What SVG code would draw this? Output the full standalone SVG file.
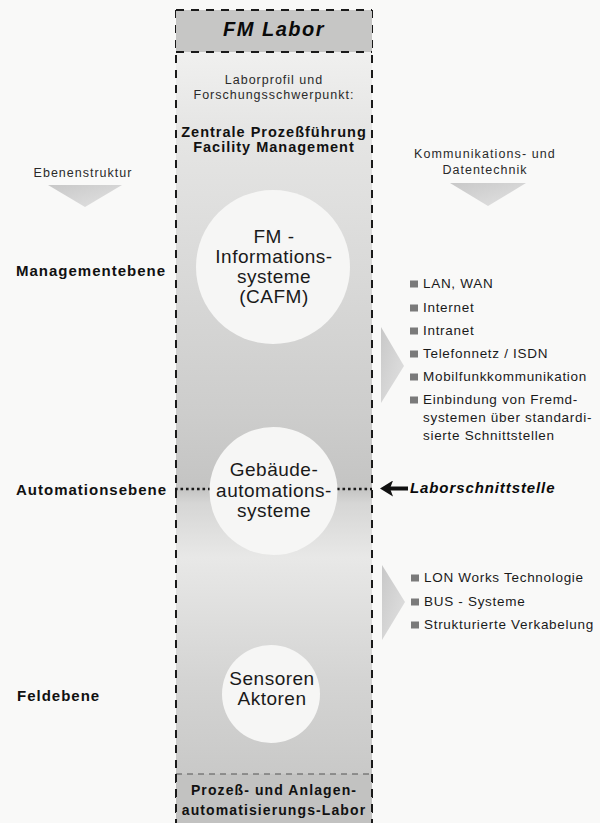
<svg xmlns="http://www.w3.org/2000/svg" width="600" height="823" viewBox="0 0 600 823">
<style>
text{font-family:"Liberation Sans",Arial,Helvetica,sans-serif;fill:#111}
.lvl{font-size:15px;font-weight:bold;letter-spacing:1px}
.hdr{font-size:12.5px;fill:#2a2a2a;letter-spacing:1px}
.circ{font-size:19px;letter-spacing:0.5px;fill:#1a1a1a;text-anchor:middle}
.li{font-size:13.5px;letter-spacing:0.7px;fill:#1a1a1a}
.bul{fill:#7a7a7a}
.dash{fill:none;stroke:#1a1a1a;stroke-width:2;stroke-dasharray:8 7}
.dots{fill:none;stroke:#1a1a1a;stroke-width:2.6;stroke-dasharray:2.6 2.9}
.node{fill:#f6f6f5}
.tri{fill:url(#tg)}
</style>
<defs>
<linearGradient id="colg" gradientUnits="userSpaceOnUse" x1="0" y1="52" x2="0" y2="774">
<stop offset="0" stop-color="#f0f0ef"/>
<stop offset="0.1" stop-color="#e6e6e5"/>
<stop offset="0.5" stop-color="#cdcdcc"/>
<stop offset="0.605" stop-color="#c4c4c3"/>
<stop offset="0.625" stop-color="#d6d6d5"/>
<stop offset="0.70" stop-color="#e8e8e7"/>
<stop offset="0.87" stop-color="#d4d4d3"/>
<stop offset="1" stop-color="#c9c9c8"/>
</linearGradient>
<linearGradient id="tg" x1="0" y1="0" x2="1" y2="1">
<stop offset="0" stop-color="#c8c8c8"/>
<stop offset="1" stop-color="#e2e2e2"/>
</linearGradient>
<marker id="ah" viewBox="0 0 13 16" refX="3" refY="8" markerWidth="13" markerHeight="16" markerUnits="userSpaceOnUse" orient="auto">
<path d="M0,0 L13,8 L0,16 L3,8 Z" fill="#111"/>
</marker>
</defs>
<rect width="600" height="823" fill="#f9f9f8"/>

<g id="column">
<rect x="176" y="52" width="196" height="722" fill="url(#colg)"/>
<path class="dash" d="M176,10 V823 M372,10 V823"/>
</g>

<g id="header">
<rect x="176" y="10" width="196" height="42" fill="#c6c6c5"/>
<path class="dash" d="M176,10 H372 M176,52 H372"/>
<text x="274" y="36" text-anchor="middle" style="font-size:20px;font-weight:bold;font-style:italic;letter-spacing:1.5px;fill:#0a0a0a">FM Labor</text>
<text class="hdr" x="274" y="84" text-anchor="middle">Laborprofil und</text>
<text class="hdr" x="274" y="99" text-anchor="middle">Forschungsschwerpunkt:</text>
<text x="274" y="137" text-anchor="middle" style="font-size:14.5px;font-weight:bold;letter-spacing:1px">Zentrale Prozeßführung</text>
<text x="274" y="152" text-anchor="middle" style="font-size:14.5px;font-weight:bold;letter-spacing:1px">Facility Management</text>
</g>

<g id="footer">
<rect x="176" y="774" width="196" height="49" fill="#c2c2c1"/>
<path d="M176,774 H372" fill="none" stroke="#555" stroke-width="1.2" stroke-dasharray="6 5"/>
<path class="dash" d="M176,774 V823 M372,774 V823"/>
<text x="274" y="795" text-anchor="middle" style="font-size:14px;font-weight:bold;letter-spacing:1.1px">Prozeß- und Anlagen-</text>
<text x="274" y="815" text-anchor="middle" style="font-size:14px;font-weight:bold;letter-spacing:1.1px">automatisierungs-Labor</text>
</g>

<g id="connectors">
<path class="dots" d="M175,489 H210 M337,489 H372"/>
<line x1="408" y1="488.5" x2="390" y2="488.5" stroke="#111" stroke-width="4" marker-end="url(#ah)"/>
</g>

<g id="node-fm">
<circle class="node" cx="273" cy="267" r="77"/>
<text class="circ" x="274" y="243">FM -</text>
<text class="circ" x="274" y="263">Informations-</text>
<text class="circ" x="274" y="283">systeme</text>
<text class="circ" x="274" y="303">(CAFM)</text>
</g>

<g id="node-gebaeude">
<circle class="node" cx="273.5" cy="491" r="64"/>
<text class="circ" x="274" y="476">Gebäude-</text>
<text class="circ" x="274" y="497">automations-</text>
<text class="circ" x="274" y="517">systeme</text>
</g>

<g id="node-sensoren">
<circle class="node" cx="271" cy="694" r="49"/>
<text class="circ" x="272" y="685">Sensoren</text>
<text class="circ" x="272" y="705">Aktoren</text>
</g>

<g id="levels">
<text class="hdr" x="83" y="177" text-anchor="middle">Ebenenstruktur</text>
<polygon class="tri" points="48,185 122,185 85,207"/>
<text class="lvl" x="16" y="276">Managementebene</text>
<text class="lvl" x="16" y="495">Automationsebene</text>
<text class="lvl" x="17" y="701">Feldebene</text>
</g>

<g id="kommunikation">
<text class="hdr" x="485" y="158" text-anchor="middle" style="letter-spacing:1.1px">Kommunikations- und</text>
<text class="hdr" x="485" y="174" text-anchor="middle">Datentechnik</text>
<polygon class="tri" points="450,183 526,183 488,206"/>
</g>

<g id="list-management">
<polygon class="tri" points="381,327 381,403 404,366"/>
<rect class="bul" x="410" y="280.5" width="8" height="7"/>
<text class="li" x="423" y="288">LAN, WAN</text>
<rect class="bul" x="410" y="304.5" width="8" height="7"/>
<text class="li" x="423" y="312">Internet</text>
<rect class="bul" x="410" y="327.5" width="8" height="7"/>
<text class="li" x="423" y="335">Intranet</text>
<rect class="bul" x="410" y="350.5" width="8" height="7"/>
<text class="li" x="423" y="358">Telefonnetz / ISDN</text>
<rect class="bul" x="410" y="373.5" width="8" height="7"/>
<text class="li" x="423" y="381">Mobilfunkkommunikation</text>
<rect class="bul" x="410" y="396.5" width="8" height="7"/>
<text class="li" x="423" y="404">Einbindung von Fremd-</text>
<text class="li" x="423" y="422">systemen über standardi-</text>
<text class="li" x="423" y="440">sierte Schnittstellen</text>
</g>

<g id="interface">
<text x="410" y="493" style="font-size:15px;font-weight:bold;font-style:italic;letter-spacing:0.9px;fill:#0a0a0a">Laborschnittstelle</text>
</g>

<g id="list-feld">
<polygon class="tri" points="382,565 382,640 405,602"/>
<rect class="bul" x="411" y="574.5" width="8" height="7"/>
<text class="li" x="424" y="582">LON Works Technologie</text>
<rect class="bul" x="411" y="598.5" width="8" height="7"/>
<text class="li" x="424" y="606">BUS - Systeme</text>
<rect class="bul" x="411" y="621.5" width="8" height="7"/>
<text class="li" x="424" y="629">Strukturierte Verkabelung</text>
</g>
</svg>
